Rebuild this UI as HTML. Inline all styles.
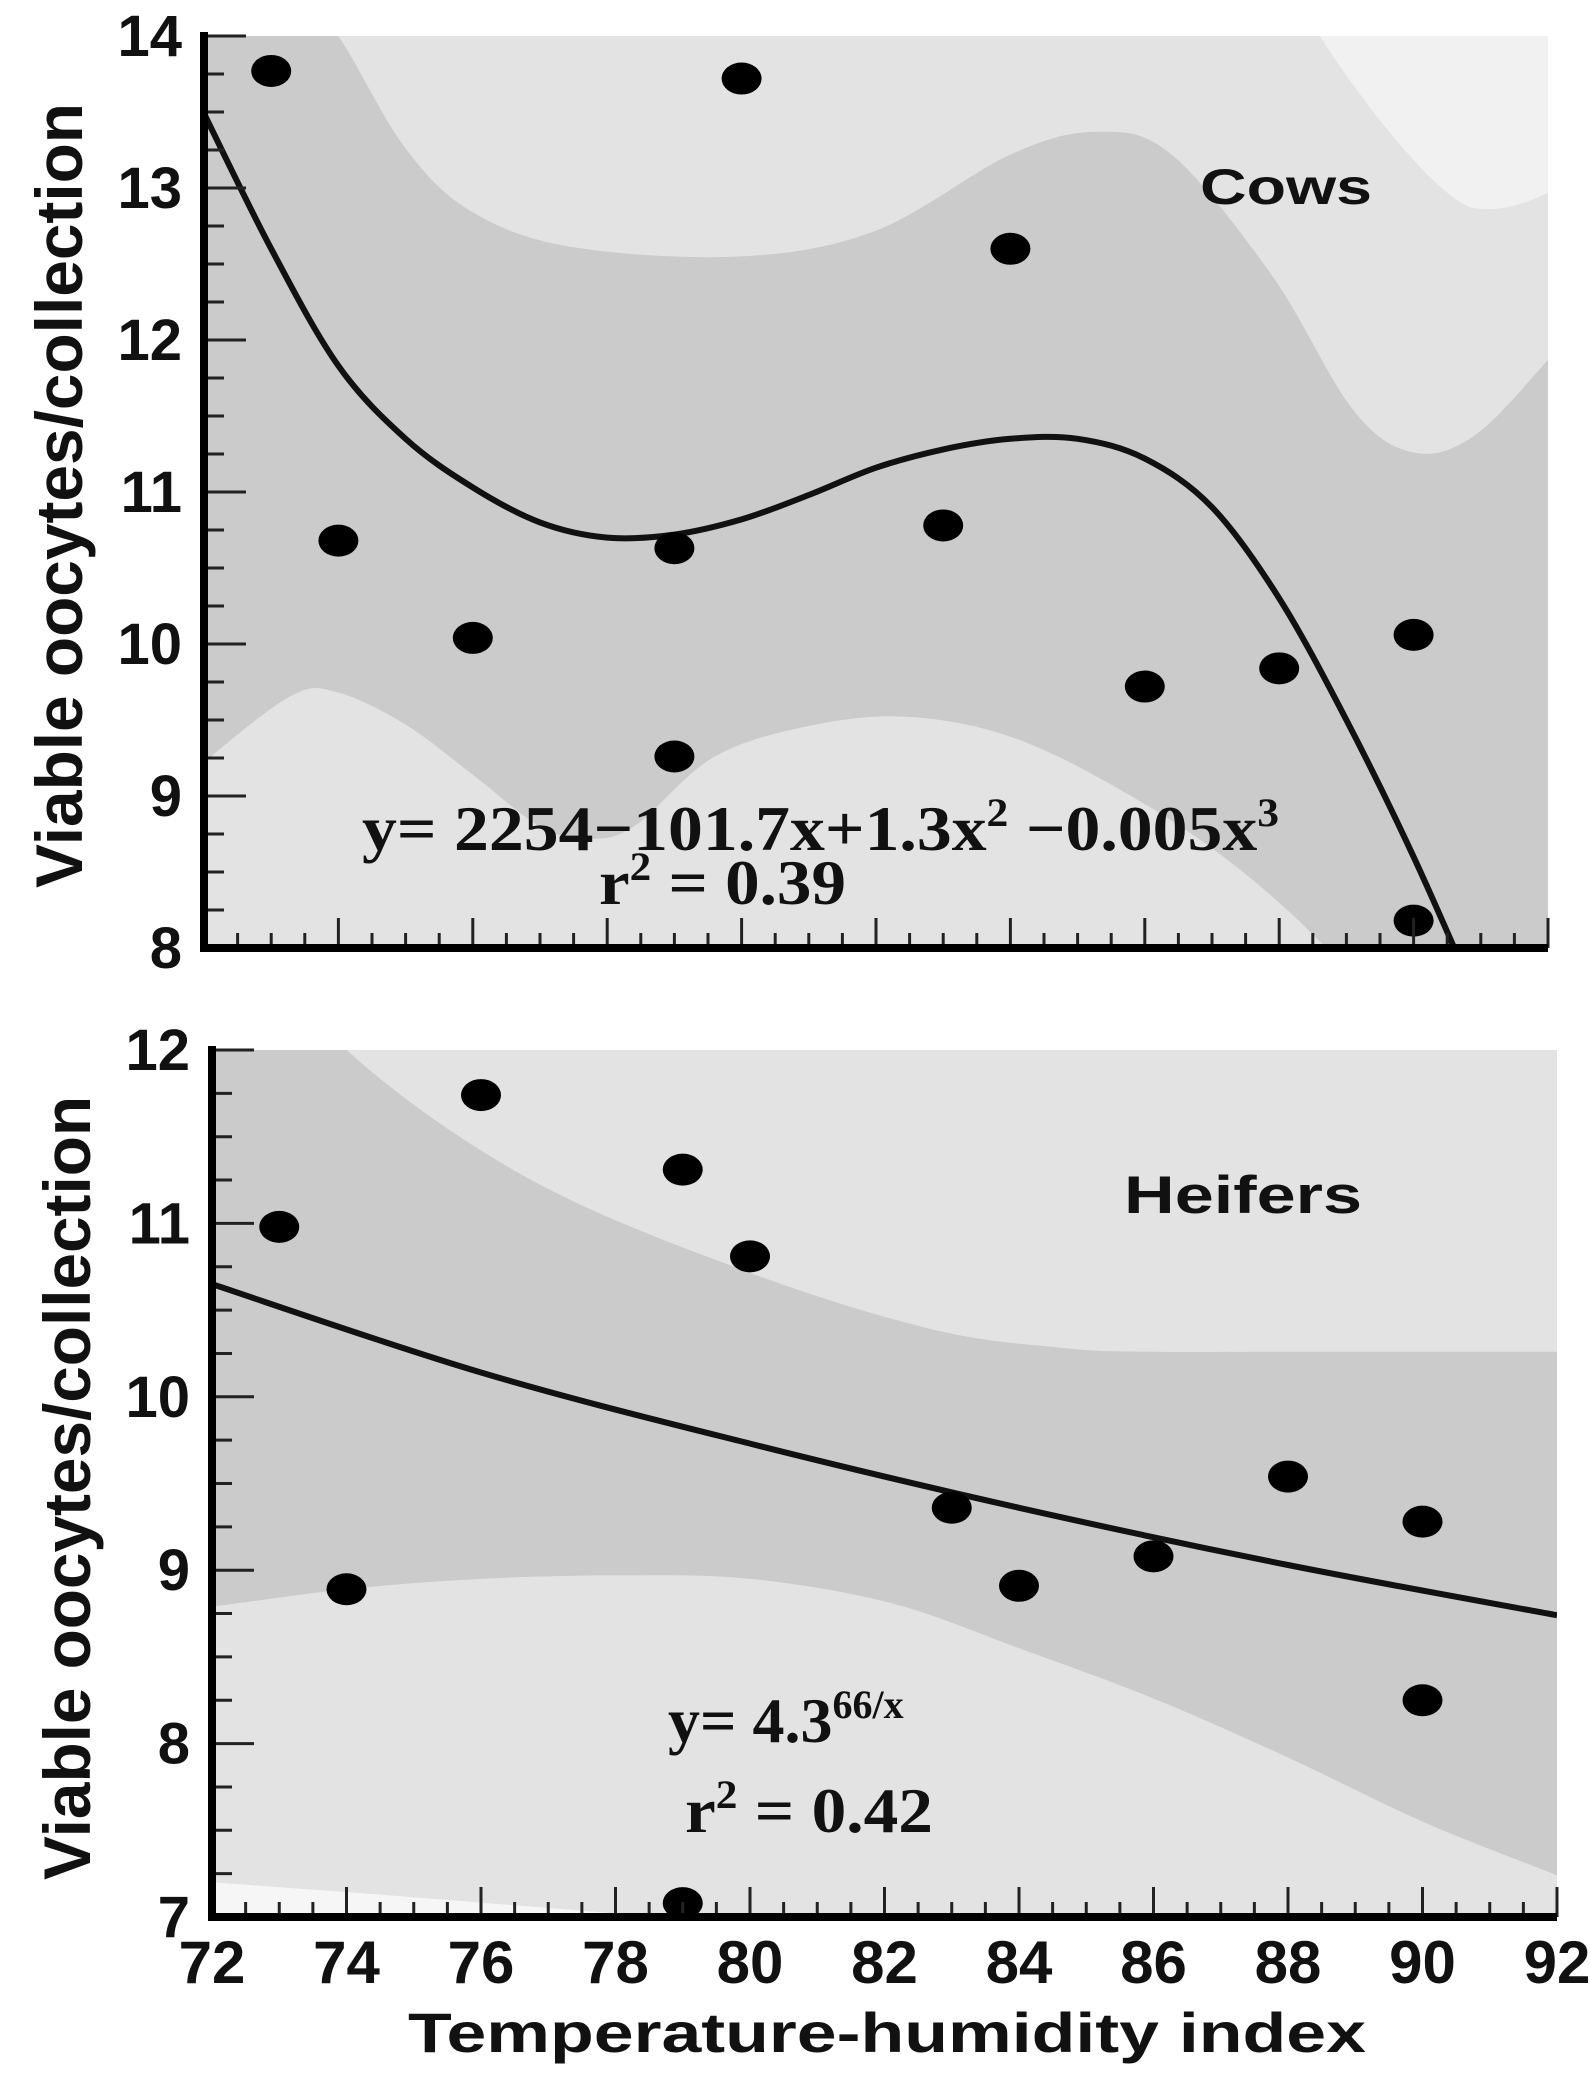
<!DOCTYPE html>
<html><head><meta charset="utf-8"><style>
html,body{margin:0;padding:0;background:#fff;}
svg{display:block;}
.tk{font-family:"Liberation Sans",Arial,sans-serif;font-weight:bold;fill:#111;}
.eq{font-family:"Liberation Serif","DejaVu Serif",serif;font-weight:bold;fill:#111;}
</style></head><body>
<svg id="chart" width="1590" height="2073" viewBox="0 0 1590 2073" xmlns="http://www.w3.org/2000/svg">
<defs>
<clipPath id="clipTop"><rect x="204" y="36" width="1344" height="912"/></clipPath>
<clipPath id="clipBot"><rect x="212" y="1050" width="1345" height="867"/></clipPath>
</defs>
<g id="top"></g>
<g id="bot"></g>
<text class="tk" x="1200" y="204" font-size="50" textLength="172" lengthAdjust="spacingAndGlyphs">Cows</text>
<text class="tk" x="1124" y="1213" font-size="53" textLength="238" lengthAdjust="spacingAndGlyphs">Heifers</text>
<text class="eq" x="362" y="850" font-size="64" textLength="917" lengthAdjust="spacingAndGlyphs">y= 2254−101.7x+1.3x<tspan dy="-24" font-size="40">2</tspan><tspan dy="24"> −0.005x</tspan><tspan dy="-24" font-size="40">3</tspan></text>
<text class="eq" x="599" y="904" font-size="64" textLength="247" lengthAdjust="spacingAndGlyphs">r<tspan dy="-24" font-size="40">2</tspan><tspan dy="24"> = 0.39</tspan></text>
<text class="eq" x="668" y="1742" font-size="64">y= 4.3<tspan dy="-24" font-size="40">66/x</tspan></text>
<text class="eq" x="685" y="1832" font-size="64" textLength="248" lengthAdjust="spacingAndGlyphs">r<tspan dy="-24" font-size="40">2</tspan><tspan dy="24"> = 0.42</tspan></text>
<text class="tk" x="408" y="2052" font-size="56" textLength="958" lengthAdjust="spacingAndGlyphs">Temperature-humidity index</text>
<text class="tk" transform="translate(82,888) rotate(-90)" font-size="66" textLength="785" lengthAdjust="spacingAndGlyphs">Viable oocytes/collection</text>
<text class="tk" transform="translate(90,1880) rotate(-90)" font-size="66" textLength="784" lengthAdjust="spacingAndGlyphs">Viable oocytes/collection</text>
</svg>
<script>
// ---- Cows data ----
const cowsX = [73,74,76,79,79,80,83,84,86,88,90,90];
const cowsY = [13.77,10.68,10.04,10.63,9.26,13.72,10.78,12.6,9.72,9.84,10.06,8.18];
const cowsFitX = [72,73,74,75,76,77,78,79,80,81,82,83,84,85,86,87,88,89,90,91];
const cowsFitY = [13.49,12.6,11.83,11.35,11.03,10.8,10.7,10.72,10.82,10.98,11.16,11.28,11.35,11.35,11.22,10.9,10.3,9.5,8.6,7.6];
const cowsCiUpX = [71,72,73,74,75,76,77.5,80,82,84,85.3,86.4,87.9,89.1,90,90.9,92,93];
const cowsCiUpY = [16.5,15.5,14.6,14.0,13.26,12.84,12.61,12.55,12.72,13.22,13.37,13.22,12.42,11.54,11.26,11.37,11.87,12.4];
const cowsCiLoX = [71,72,73.3,74,75,76,77,77.7,78.4,79.6,81.1,82.5,84,85.6,87.2,88.7,90,92,93];
const cowsCiLoY = [8.8,9.22,9.66,9.68,9.47,9.14,8.8,8.72,8.8,9.26,9.47,9.52,9.39,9.05,8.59,8.0,7.3,6.0,5.5];
const cowsPiUpX = [87.8,88.6,89.6,90.5,91.1,92,93];
const cowsPiUpY = [14.6,14.0,13.39,12.97,12.86,12.97,13.3];
const cowsYTicks = [8,9,10,11,12,13,14];
// ---- Heifers data ----
const hefX = [73,74,76,79,80,79,83,84,86,88,90,90];
const hefY = [10.98,8.89,11.74,11.31,10.81,7.08,9.36,8.91,9.08,9.54,9.28,8.25];
const hefFitX = [72,76,80,84,88,92];
const hefFitY = [10.65,10.14,9.73,9.36,9.03,8.74];
const hefCiUpX = [71,72,74,76.7,79.9,82.7,84.7,86,88,92,93];
const hefCiUpY = [13.6,12.9,12.0,11.26,10.73,10.39,10.28,10.26,10.26,10.26,10.26];
const hefCiLoX = [71,72,74,76,78,80,82.1,84,86,88,90,92,93];
const hefCiLoY = [8.75,8.79,8.89,8.95,8.97,8.95,8.81,8.55,8.26,7.92,7.55,7.24,7.08];
const hefPiLoX = [71,72,74.8,78,79,80];
const hefPiLoY = [7.23,7.2,7.12,7.02,6.98,6.95];
const hefYTicks = [7,8,9,10,11,12];
const xTickLabels = ['72','74','76','78','80','82','84','86','88','90','92'];

const NS='http://www.w3.org/2000/svg';
function mk(tag,attrs,parent){const e=document.createElementNS(NS,tag);for(const k in attrs)e.setAttribute(k,attrs[k]);parent.appendChild(e);return e;}
function smooth(pts){
  let d='M'+pts[0][0].toFixed(1)+','+pts[0][1].toFixed(1);
  for(let i=0;i<pts.length-1;i++){
    const p0=pts[Math.max(i-1,0)],p1=pts[i],p2=pts[i+1],p3=pts[Math.min(i+2,pts.length-1)];
    const c1=[p1[0]+(p2[0]-p0[0])/6,p1[1]+(p2[1]-p0[1])/6];
    const c2=[p2[0]-(p3[0]-p1[0])/6,p2[1]-(p3[1]-p1[1])/6];
    d+=' C'+c1[0].toFixed(1)+','+c1[1].toFixed(1)+' '+c2[0].toFixed(1)+','+c2[1].toFixed(1)+' '+p2[0].toFixed(1)+','+p2[1].toFixed(1);
  }
  return d;
}
function panel(g,cfg){
  const sx=v=>cfg.x0+(v-72)*(cfg.x1-cfg.x0)/20;
  const sy=v=>cfg.yb+(v-cfg.ymin)*(cfg.yt-cfg.yb)/(cfg.ymax-cfg.ymin);
  const pts=(xs,ys)=>xs.map((x,i)=>[sx(x),sy(ys[i])]);
  const cg=mk('g',{'clip-path':'url(#'+cfg.clip+')'},g);
  const bg=mk('rect',{x:cfg.x0,y:cfg.yt,width:cfg.x1-cfg.x0,height:cfg.yb-cfg.yt,fill:'#e3e3e3'},cg);
  
  
  if(cfg.piUp){
    const p=pts(cfg.piUp[0],cfg.piUp[1]);
    const d=smooth(p)+' L'+p[p.length-1][0]+','+(cfg.yt-100)+' L'+p[0][0]+','+(cfg.yt-100)+' Z';
    const e=mk('path',{d:d,fill:'#f1f1f1'},cg);
    
    
  }
  if(cfg.piLo){
    const p=pts(cfg.piLo[0],cfg.piLo[1]);
    const d=smooth(p)+' L'+p[p.length-1][0]+','+(cfg.yb+100)+' L'+p[0][0]+','+(cfg.yb+100)+' Z';
    const e=mk('path',{d:d,fill:'#f6f6f6'},cg);
    
    
  }
  const up=pts(cfg.ciUp[0],cfg.ciUp[1]);
  const lo=pts(cfg.ciLo[0],cfg.ciLo[1]).reverse();
  const band=mk('path',{d:smooth(up)+' L'+lo[0][0].toFixed(1)+','+lo[0][1].toFixed(1)+' '+smooth(lo).slice(1)+' Z',fill:'#cbcbcb'},cg);
  
  
  const fit=mk('path',{d:smooth(pts(cfg.fit[0],cfg.fit[1])),fill:'none',stroke:'#111',"stroke-width":6},cg);
  
  
  cfg.px.forEach((x,i)=>{
    const c=mk('ellipse',{cx:sx(x),cy:sy(cfg.py[i]),rx:20,ry:16,fill:'#000'},cg);
    
    
  });
  for(let v=72;v<=92.001;v+=0.5){
    const major=Math.abs(v-Math.round(v/2)*2)<0.01;
    const t=mk('line',{x1:sx(v),x2:sx(v),y1:cfg.yb,y2:cfg.yb-(major?30:15),stroke:'#222','stroke-width':3},g);
    
    
  }
  for(let v=cfg.ymin;v<=cfg.ymax+0.001;v+=0.25){
    const major=Math.abs(v-Math.round(v))<0.01;
    const t=mk('line',{x1:cfg.x0,x2:cfg.x0+(major?42:20),y1:sy(v),y2:sy(v),stroke:'#222','stroke-width':3},g);
    
    
  }
  cfg.yTicks.forEach(v=>{
    const t=mk('text',{x:cfg.x0-22,y:sy(v)+20,'text-anchor':'end','font-size':58,class:'tk'},g);
    t.textContent=String(v);
    
    
  });
  const ya=mk('line',{x1:cfg.x0,x2:cfg.x0,y1:cfg.yt-4,y2:cfg.yb+4,stroke:'#000','stroke-width':8},g);
  
  
  const xa=mk('line',{x1:cfg.x0-4,x2:cfg.x1,y1:cfg.yb,y2:cfg.yb,stroke:'#000','stroke-width':8},g);
  
  
  if(cfg.xLabels){
    xTickLabels.forEach((s,i)=>{
      const t=mk('text',{x:sx(72+2*i),y:1983,'text-anchor':'middle','font-size':60,class:'tk'},g);
      t.textContent=s;
      
      
    });
  }
}
panel(document.getElementById('top'),{x0:204,x1:1548,yt:36,yb:948,ymin:8,ymax:14,clip:'clipTop',
  px:cowsX,py:cowsY,fit:[cowsFitX,cowsFitY],ciUp:[cowsCiUpX,cowsCiUpY],ciLo:[cowsCiLoX,cowsCiLoY],
  piUp:[cowsPiUpX,cowsPiUpY],yTicks:cowsYTicks});
panel(document.getElementById('bot'),{x0:212,x1:1557,yt:1050,yb:1917,ymin:7,ymax:12,clip:'clipBot',
  px:hefX,py:hefY,fit:[hefFitX,hefFitY],ciUp:[hefCiUpX,hefCiUpY],ciLo:[hefCiLoX,hefCiLoY],
  piLo:[hefPiLoX,hefPiLoY],yTicks:hefYTicks,xLabels:true});
</script>
</body></html>
